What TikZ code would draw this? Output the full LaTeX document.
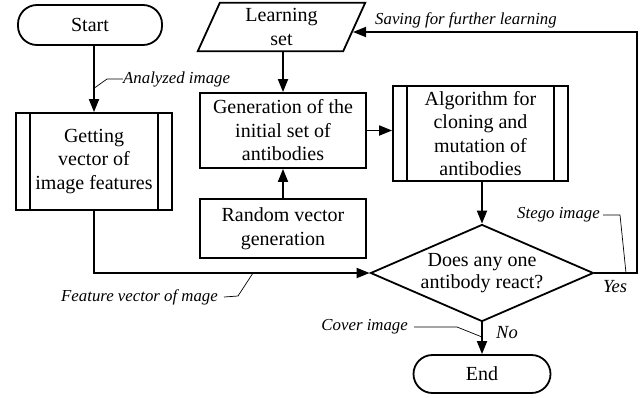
\documentclass[tikz,border=0pt]{standalone}
\usepackage{fontspec}
\setmainfont{Liberation Serif}
\usetikzlibrary{arrows.meta,shapes.geometric,calc}
\begin{document}
\begin{tikzpicture}[x=1pt,y=-1pt,
  box/.style={draw,line width=1.8pt,inner sep=0pt,align=center,font=\fontsize{20}{23.5}\selectfont},
  term/.style={box,rounded corners=19pt},
  plain/.style={inner sep=0pt,align=center,font=\fontsize{20}{23.5}\selectfont},
  lbl/.style={inner sep=0pt,font=\fontsize{16.8}{19}\selectfont\itshape},
  yn/.style={inner sep=0pt,font=\fontsize{18.5}{21}\selectfont\itshape},
  conn/.style={line width=1.8pt},
  arr/.style={line width=1.8pt,-{Triangle[length=13pt,width=10pt]}},
  lead/.style={line width=0.7pt}]
\useasboundingbox (0,0) rectangle (644,397);

% nodes
\node[term,minimum width=144,minimum height=40] (Start) at (90,25) {Start};
\node[box,minimum width=156,minimum height=97] (Get) at (94,161.5) {Getting\\vector of\\image features};
\node[plain,minimum width=145,minimum height=48] (LS) at (281.5,27) {Learning\\set};
\node[box,minimum width=166,minimum height=75] (Gen) at (283,130.5) {Generation of the\\initial set of\\antibodies};
\node[box,minimum width=166,minimum height=59] (Rand) at (283,228.5) {Random vector\\generation};
\node[box,minimum width=175,minimum height=95] (Alg) at (480.5,133.5) {Algorithm for\\cloning and\\mutation of\\antibodies};
\node[diamond,draw,line width=1.8pt,inner sep=0pt,aspect=2.3,minimum width=223,minimum height=97,align=center,font=\fontsize{20}{22.5}\selectfont] (Dia) at (482,273) {Does any one\\antibody react?};
\node[term,minimum width=137,minimum height=38] (End) at (482,374) {End};

% parallelogram outline of the learning set
\draw[line width=1.8pt,line join=miter] ($(LS.north west)+(11,0)$) -- ($(LS.north east)+(11,0)$) -- ($(LS.south east)+(-11,0)$) -- ($(LS.south west)+(-11,0)$) -- cycle;

% double side bars of predefined processes
\draw[conn] ([xshift=15pt]Get.north west) -- ([xshift=15pt]Get.south west);
\draw[conn] ([xshift=-15pt]Get.north east) -- ([xshift=-15pt]Get.south east);
\draw[conn] ([xshift=15pt]Alg.north west) -- ([xshift=15pt]Alg.south west);
\draw[conn] ([xshift=-15pt]Alg.north east) -- ([xshift=-15pt]Alg.south east);

% helper coordinates
\coordinate (lsin) at (353,32);
\coordinate (loopx) at (637,0);

% connectors
\draw[arr] (Start.south -| Get.north) -- (Get.north);
\draw[arr] (Get.south) |- (Dia.west);
\draw[arr] (LS.south -| Gen.north) -- (Gen.north);
\draw[arr] (Rand.north) -- (Gen.south);
\draw[arr] (Gen.east) -- (Gen.east -| Alg.west);
\draw[arr] (Alg.south -| Dia.north) -- (Dia.north);
\draw[arr] (Dia.south) -- (End.north);
\draw[arr] (Dia.east) -- (Dia.east -| loopx) |- (lsin);

% labels
\node[lbl,anchor=west] (lAn) at (123,79) {Analyzed image};
\draw[lead] (93,89) -- (107,79) -- (lAn.west);
\node[lbl,anchor=west] (lSave) at (375,20) {Saving for further learning};
\node[lbl,anchor=east] (lStego) at (600,215) {Stego image};
\draw[lead] ([xshift=3pt]lStego.east) -- (620,215) -- (626,273);
\node[lbl,anchor=east] (lFeat) at (218,297) {Feature vector of mage};
\draw[lead] ([xshift=6pt]lFeat.east) -- (238,296) -- (253,273);
\node[lbl,anchor=east] (lCov) at (408,327) {Cover image};
\draw[lead] ([xshift=6pt]lCov.east) -- (457,327) -- (482,337);
\node[yn] (lYes) at (615,287) {Yes};
\node[yn] (lNo) at (507,333) {No};
\end{tikzpicture}
\end{document}
